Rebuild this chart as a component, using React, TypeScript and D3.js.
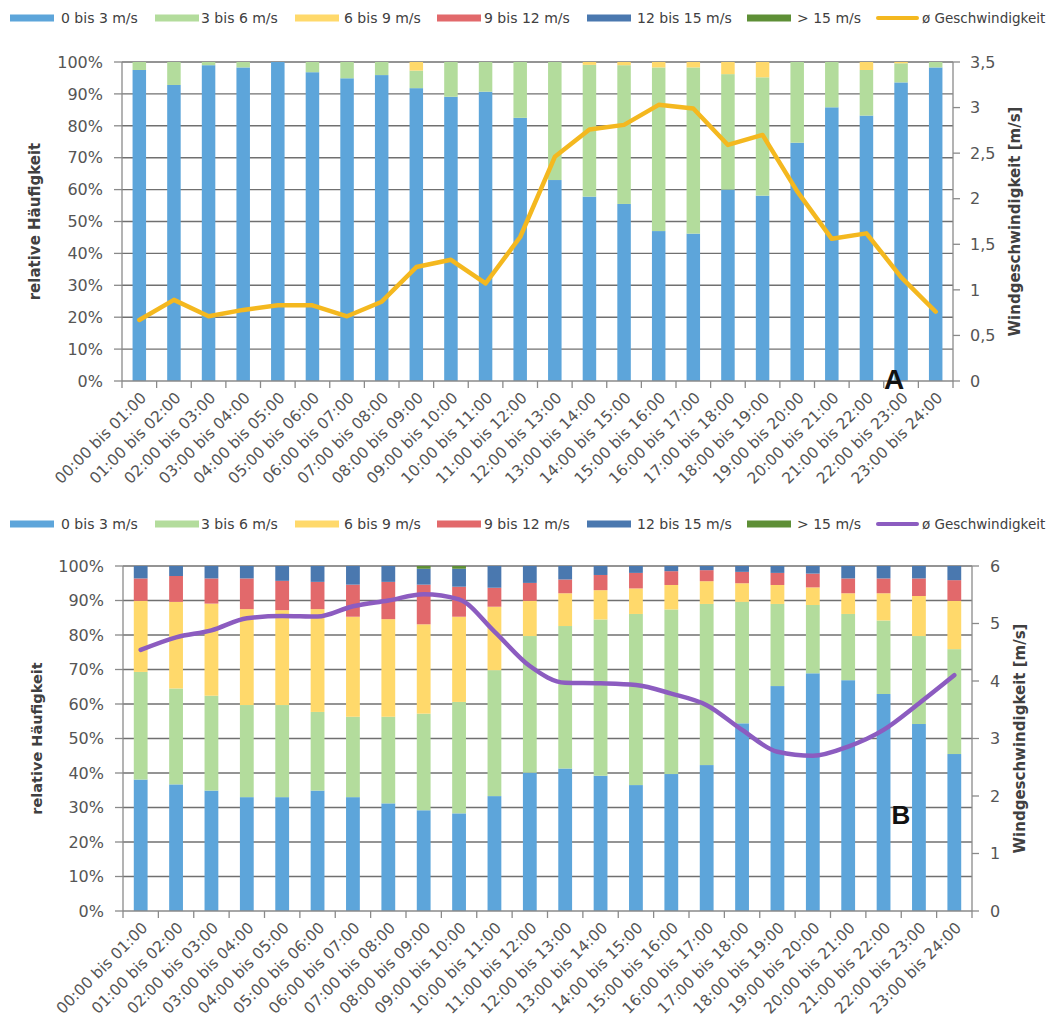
import React from "react";
import * as d3 from "d3";

const hours = [
  "00:00 bis 01:00", "01:00 bis 02:00", "02:00 bis 03:00", "03:00 bis 04:00",
  "04:00 bis 05:00", "05:00 bis 06:00", "06:00 bis 07:00", "07:00 bis 08:00",
  "08:00 bis 09:00", "09:00 bis 10:00", "10:00 bis 11:00", "11:00 bis 12:00",
  "12:00 bis 13:00", "13:00 bis 14:00", "14:00 bis 15:00", "15:00 bis 16:00",
  "16:00 bis 17:00", "17:00 bis 18:00", "18:00 bis 19:00", "19:00 bis 20:00",
  "20:00 bis 21:00", "21:00 bis 22:00", "22:00 bis 23:00", "23:00 bis 24:00",
];

const classes = ["0 bis 3 m/s", "3 bis 6 m/s", "6 bis 9 m/s", "9 bis 12 m/s", "12 bis 15 m/s", "> 15 m/s"];
const classColors = ["#5DA5DA", "#B3DC9C", "#FFD96B", "#E2696B", "#4A78AF", "#5E8F36"];
const speedLabel = "ø Geschwindigkeit";

// Panel A – relative frequency per class [%]
const aC0 = [97.5, 92.8, 99.0, 98.3, 100, 96.8, 94.9, 95.9, 91.8, 89.1, 90.7, 82.5, 63.0, 57.8, 55.5, 47.0, 46.2, 60.0, 58.1, 74.7, 85.8, 83.2, 93.6, 98.3];
const aC1 = [2.5, 7.2, 1.0, 1.7, 0, 3.2, 5.1, 4.1, 5.5, 10.9, 9.3, 17.5, 37.0, 41.3, 43.5, 51.3, 52.1, 36.2, 37.1, 25.3, 14.2, 14.3, 6.0, 1.7];
const aC2 = [0, 0, 0, 0, 0, 0, 0, 0, 2.7, 0, 0, 0, 0, 0.9, 1.0, 1.7, 1.7, 3.8, 4.8, 0, 0, 2.5, 0.4, 0];
const aC3 = [0, 0, 0, 0, 0, 0, 0, 0, 0, 0, 0, 0, 0, 0, 0, 0, 0, 0, 0, 0, 0, 0, 0, 0];
const aC4 = [0, 0, 0, 0, 0, 0, 0, 0, 0, 0, 0, 0, 0, 0, 0, 0, 0, 0, 0, 0, 0, 0, 0, 0];
const aC5 = [0, 0, 0, 0, 0, 0, 0, 0, 0, 0, 0, 0, 0, 0, 0, 0, 0, 0, 0, 0, 0, 0, 0, 0];
const aSpeed = [0.67, 0.89, 0.71, 0.78, 0.83, 0.83, 0.71, 0.87, 1.25, 1.33, 1.07, 1.58, 2.46, 2.76, 2.81, 3.03, 2.99, 2.59, 2.70, 2.08, 1.56, 1.62, 1.14, 0.76];

// Panel B – relative frequency per class [%]
const bC0 = [38.1, 36.7, 34.9, 33.0, 33.0, 34.9, 33.0, 31.2, 29.2, 28.3, 33.3, 40.1, 41.3, 39.2, 36.5, 39.7, 42.3, 54.4, 65.2, 68.9, 66.9, 62.9, 54.2, 45.5];
const bC1 = [31.2, 27.8, 27.5, 26.7, 26.7, 22.8, 23.3, 25.1, 28.0, 32.3, 36.5, 39.6, 41.3, 45.3, 49.6, 47.7, 46.7, 35.2, 23.8, 19.8, 19.2, 21.3, 25.5, 30.4];
const bC2 = [20.6, 25.1, 26.7, 27.8, 27.5, 29.8, 29.0, 28.3, 25.9, 24.7, 18.4, 10.2, 9.5, 8.5, 7.4, 7.1, 6.6, 5.4, 5.5, 5.1, 6.0, 7.9, 11.6, 14.0];
const bC3 = [6.5, 7.5, 7.3, 8.9, 8.5, 7.9, 9.3, 10.8, 11.5, 8.7, 5.5, 5.2, 4.0, 4.4, 4.5, 4.0, 3.2, 3.3, 3.5, 4.0, 4.3, 4.3, 5.1, 6.0];
const bC4 = [3.6, 2.9, 3.6, 3.6, 4.3, 4.6, 5.4, 4.6, 4.6, 5.2, 6.3, 4.9, 3.9, 2.6, 2.0, 1.5, 1.2, 1.7, 2.0, 2.2, 3.6, 3.6, 3.6, 4.1];
const bC5 = [0, 0, 0, 0, 0, 0, 0, 0, 0.8, 0.8, 0, 0, 0, 0, 0, 0, 0, 0, 0, 0, 0, 0, 0, 0];
const bSpeed = [4.54, 4.76, 4.88, 5.09, 5.13, 5.12, 5.30, 5.40, 5.51, 5.42, 4.86, 4.26, 3.97, 3.96, 3.93, 3.78, 3.58, 3.15, 2.77, 2.70, 2.86, 3.15, 3.61, 4.10];

const pctTicks = [0, 10, 20, 30, 40, 50, 60, 70, 80, 90, 100];
const aSpeedTicks = [0, 0.5, 1, 1.5, 2, 2.5, 3, 3.5];
const bSpeedTicks = [0, 1, 2, 3, 4, 5, 6];

const FONT = "'DejaVu Sans', Verdana, sans-serif";
const legendSwatchX = [10, 155, 295, 437, 587, 747, 876];
const legendTextX = [61, 201, 344, 484, 637, 797, 922];

type PanelProps = {
  series: number[][];
  speed: number[];
  speedMax: number;
  speedTicks: number[];
  lineColor: string;
  box: { left: number; right: number; top: number; bottom: number };
  legendY: number;
  letter: string;
  letterX: number;
  letterY: number;
  letterSize: number;
  smooth: boolean;
  leftTitleX: number;
  rightTickX: number;
  rightTitleX: number;
  titleSize: number;
};

function Panel(p: PanelProps) {
  const { box } = p;
  const keys = classes.map((_, k) => "c" + k);
  const rows = hours.map((h, i) => {
    const r: any = { h };
    p.series.forEach((s, k) => (r["c" + k] = s[i]));
    return r;
  });
  const stacked = d3.stack<any>().keys(keys)(rows);
  const x = d3.scaleBand<string>().domain(hours).range([box.left, box.right]).paddingInner(0.61).paddingOuter(0.305);
  const y = d3.scaleLinear().domain([0, 100]).range([box.bottom, box.top]);
  const y2 = d3.scaleLinear().domain([0, p.speedMax]).range([box.bottom, box.top]);
  const cx = (h: string) => (x(h) as number) + x.bandwidth() / 2;
  const line = d3
    .line<number>()
    .x((_, i) => cx(hours[i]))
    .y((d) => y2(d))
    .curve(p.smooth ? d3.curveMonotoneX : d3.curveLinear);
  const step = (box.right - box.left) / hours.length;
  const bounds = d3.range(hours.length + 1).map((k) => box.left + k * step);
  const midY = (box.top + box.bottom) / 2;

  return (
    <g>
      {/* legend */}
      {classes.map((c, k) => (
        <g key={c}>
          <rect x={legendSwatchX[k]} y={p.legendY - 3.5} width={44} height={7} fill={classColors[k]} />
          <text x={legendTextX[k]} y={p.legendY} dy="0.36em" fontSize={14} fill="#404040" fontFamily={FONT}>
            {c}
          </text>
        </g>
      ))}
      <rect x={legendSwatchX[6]} y={p.legendY - 2} width={43} height={4} rx={2} fill={p.lineColor} />
      <text x={legendTextX[6]} y={p.legendY} dy="0.36em" fontSize={13.5} fill="#404040" fontFamily={FONT}>
        {speedLabel}
      </text>

      {/* gridlines */}
      {pctTicks.filter((t) => t > 0).map((t) => (
        <line key={t} x1={box.left} x2={box.right} y1={y(t)} y2={y(t)} stroke="#707070" strokeWidth={1.4} />
      ))}

      {/* bars */}
      {stacked.map((layer, k) => (
        <g key={k} fill={classColors[k]}>
          {layer.map((d, i) =>
            d[1] - d[0] > 0 ? (
              <rect key={i} x={x(hours[i])} width={x.bandwidth()} y={y(d[1])} height={y(d[0]) - y(d[1])} />
            ) : null
          )}
        </g>
      ))}

      {/* axes */}
      <line x1={box.left} x2={box.left} y1={box.top} y2={box.bottom} stroke="#8a8a8a" strokeWidth={1.3} />
      <line x1={box.right} x2={box.right} y1={box.top} y2={box.bottom} stroke="#8a8a8a" strokeWidth={1.3} />
      <line x1={box.left} x2={box.right} y1={box.bottom} y2={box.bottom} stroke="#8a8a8a" strokeWidth={1.3} />
      {pctTicks.map((t) => (
        <g key={t}>
          <line x1={box.left - 8} x2={box.left} y1={y(t)} y2={y(t)} stroke="#8a8a8a" strokeWidth={1.3} />
          <text x={box.left - 19} y={y(t)} dy="0.36em" textAnchor="end" fontSize={16} fill="#555" fontFamily={FONT}>
            {t + "%"}
          </text>
        </g>
      ))}
      {p.speedTicks.map((t) => (
        <g key={t}>
          <line x1={box.right} x2={box.right + 7} y1={y2(t)} y2={y2(t)} stroke="#8a8a8a" strokeWidth={1.3} />
          <text x={p.rightTickX} y={y2(t)} dy="0.36em" fontSize={16} fill="#555" fontFamily={FONT}>
            {String(t).replace(".", ",")}
          </text>
        </g>
      ))}
      {bounds.map((b, k) => (
        <line key={k} x1={b} x2={b} y1={box.bottom} y2={box.bottom + 7} stroke="#8a8a8a" strokeWidth={1.3} />
      ))}
      {hours.map((h) => (
        <text
          key={h}
          transform={`translate(${cx(h) + 4},${box.bottom + 14}) rotate(-45)`}
          textAnchor="end"
          dy="0.35em"
          fontSize={15.5}
          fill="#555"
          fontFamily={FONT}
        >
          {h}
        </text>
      ))}

      {/* titles */}
      <text
        transform={`translate(${p.leftTitleX},${midY}) rotate(-90)`}
        textAnchor="middle"
        dy="0.35em"
        fontSize={p.titleSize}
        fontWeight="bold"
        fill="#404040"
        fontFamily={FONT}
      >
        relative Häufigkeit
      </text>
      <text
        transform={`translate(${p.rightTitleX},${midY}) rotate(-90)`}
        textAnchor="middle"
        dy="0.35em"
        fontSize={15}
        fontWeight="bold"
        fill="#404040"
        fontFamily={FONT}
      >
        Windgeschwindigkeit [m/s]
      </text>

      {/* speed line */}
      <path d={line(p.speed) || ""} fill="none" stroke={p.lineColor} strokeWidth={4.5} strokeLinejoin="round" strokeLinecap="round" />

      <text
        x={p.letterX}
        y={p.letterY}
        textAnchor="middle"
        fontSize={p.letterSize}
        fontWeight="bold"
        fill="#111"
        fontFamily="'Liberation Sans', Arial, sans-serif"
      >
        {p.letter}
      </text>
    </g>
  );
}

export default function App() {
  return (
    <svg
      width={1057}
      height={1028}
      viewBox="0 0 1057 1028"
      style={{ position: "absolute", left: 0, top: 0, background: "#fff" }}
    >
      <rect width={1057} height={1028} fill="#fff" />
      <Panel
        series={[aC0, aC1, aC2, aC3, aC4, aC5]}
        speed={aSpeed}
        speedMax={3.5}
        speedTicks={aSpeedTicks}
        lineColor="#F4B81F"
        box={{ left: 122, right: 953, top: 62, bottom: 381 }}
        legendY={18}
        letter="A"
        letterX={894}
        letterY={389}
        letterSize={28}
        smooth={false}
        leftTitleX={35}
        rightTickX={970}
        rightTitleX={1015}
        titleSize={15}
      />
      <Panel
        series={[bC0, bC1, bC2, bC3, bC4, bC5]}
        speed={bSpeed}
        speedMax={6}
        speedTicks={bSpeedTicks}
        lineColor="#8C5CC0"
        box={{ left: 123, right: 972, top: 566, bottom: 911 }}
        legendY={524}
        letter="B"
        letterX={901}
        letterY={824}
        letterSize={26}
        smooth={true}
        leftTitleX={37}
        rightTickX={990}
        rightTitleX={1020}
        titleSize={14.5}
      />
    </svg>
  );
}
